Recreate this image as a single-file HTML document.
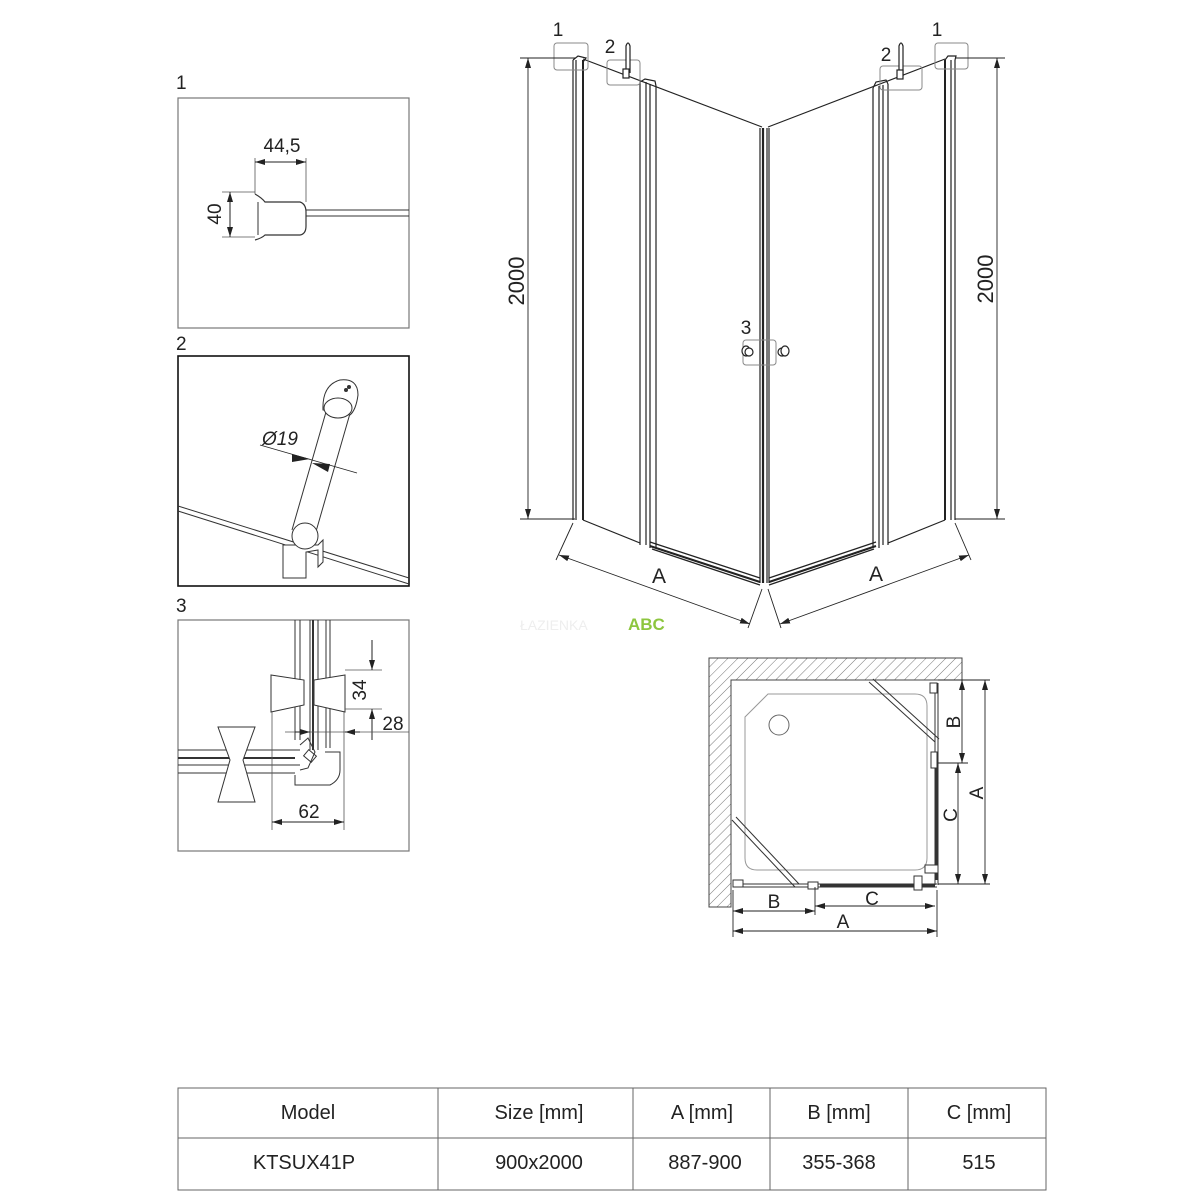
<!DOCTYPE html>
<html><head><meta charset="utf-8"><style>
html,body{margin:0;padding:0;background:#fff}
svg{display:block}
text{font-family:"Liberation Sans Narrow","Liberation Sans",sans-serif;fill:#222}
</style></head><body>
<svg width="1200" height="1200" viewBox="0 0 1200 1200" xmlns="http://www.w3.org/2000/svg">
<defs>
<marker id="ar" viewBox="0 0 10 6" refX="10" refY="3" markerWidth="10" markerHeight="6" orient="auto-start-reverse" markerUnits="userSpaceOnUse"><path d="M0,0 L10,3 L0,6 z" fill="#222"/></marker>
<pattern id="hatch" width="7" height="7" patternUnits="userSpaceOnUse" patternTransform="rotate(45)"><line x1="0" y1="0" x2="0" y2="7" stroke="#777" stroke-width="1"/></pattern>
</defs>

<!-- ===== Panel 1 ===== -->
<text x="176" y="89" font-size="19">1</text>
<rect x="178" y="98" width="231" height="230" fill="none" stroke="#777" stroke-width="1.2"/>
<path d="M255,194 Q262,198 265,202 L300,202 Q306,204 306,212 L306,226 Q306,234 300,235 L265,235 Q262,238 255,240" fill="none" stroke="#333" stroke-width="1.2"/>
<line x1="258" y1="202" x2="258" y2="235" stroke="#333"/>
<line x1="306" y1="210" x2="409" y2="210" stroke="#333"/>
<line x1="306" y1="216" x2="409" y2="216" stroke="#333"/>
<line x1="255" y1="158" x2="255" y2="194" stroke="#555" stroke-width="0.8"/>
<line x1="306" y1="158" x2="306" y2="202" stroke="#555" stroke-width="0.8"/>
<line x1="255" y1="162" x2="306" y2="162" stroke="#222" marker-start="url(#ar)" marker-end="url(#ar)"/>
<text x="282" y="152" font-size="19" text-anchor="middle">44,5</text>
<line x1="222" y1="192" x2="255" y2="192" stroke="#555" stroke-width="0.8"/>
<line x1="222" y1="237" x2="255" y2="237" stroke="#555" stroke-width="0.8"/>
<line x1="230" y1="192" x2="230" y2="237" stroke="#222" marker-start="url(#ar)" marker-end="url(#ar)"/>
<text transform="translate(221,214) rotate(-90)" font-size="19" text-anchor="middle">40</text>

<!-- ===== Panel 2 ===== -->
<text x="176" y="350" font-size="19">2</text>
<rect x="178" y="356" width="231" height="230" fill="none" stroke="#111" stroke-width="1.6"/>
<line x1="178" y1="506" x2="409" y2="578" stroke="#333"/>
<line x1="178" y1="511" x2="409" y2="584" stroke="#333"/>
<line x1="292" y1="530" x2="328" y2="405" stroke="#333"/>
<line x1="315" y1="535" x2="351" y2="410" stroke="#333"/>
<path d="M323,410 Q322,385 340,380 Q358,378 358,395 Q356,410 350,415 Z" fill="#fff" stroke="#333"/>
<ellipse cx="338" cy="408" rx="14" ry="10" fill="#fff" stroke="#333"/>
<circle cx="346" cy="390" r="2" fill="#333"/><circle cx="349" cy="387" r="2" fill="#333"/>
<path d="M283,545 L318,545 L323,540 L323,562 L318,567 L318,550 L306,552 L306,578 L283,578 Z" fill="#fff" stroke="#333"/>
<circle cx="305" cy="536" r="13" fill="#fff" stroke="#333"/>
<line x1="260" y1="445" x2="357" y2="473" stroke="#222" stroke-width="0.8"/>
<path d="M292,454 L310,459 L292,462 z M330,464 L312,463 L328,472 z" fill="#222"/>
<text x="262" y="445" font-size="19" font-style="italic">Ø19</text>

<!-- ===== Panel 3 ===== -->
<text x="176" y="612" font-size="19">3</text>
<rect x="178" y="620" width="231" height="231" fill="none" stroke="#777" stroke-width="1.2"/>
<g stroke="#333" fill="none" stroke-width="1">
<line x1="295" y1="620" x2="295" y2="740"/><line x1="300" y1="620" x2="300" y2="740"/>
<line x1="310" y1="620" x2="310" y2="750"/><line x1="313" y1="620" x2="313" y2="750" stroke-width="2"/>
<line x1="318" y1="620" x2="318" y2="750"/><line x1="326" y1="620" x2="326" y2="748"/><line x1="330" y1="620" x2="330" y2="748"/>
<line x1="178" y1="750" x2="300" y2="750"/><line x1="178" y1="758" x2="295" y2="758" stroke-width="2"/>
<line x1="178" y1="765" x2="300" y2="765"/><line x1="178" y1="773" x2="295" y2="773"/>
<path d="M295,775 L295,785 L330,785 Q340,780 340,770 L340,752 L325,752"/>
<path d="M300,745 L308,738 L315,752 L308,768 L300,770"/>
<rect x="305" y="752" width="10" height="8" transform="rotate(40 310 756)"/>
</g>
<path d="M271,675 L304,680 L304,705 L271,712 Z M345,675 L314,680 L314,705 L345,712 Z" fill="#fff" stroke="#333"/>
<path d="M218,727 L255,727 L243,760 L255,802 L218,802 L230,760 Z" fill="#fff" stroke="#333"/>
<line x1="345" y1="670" x2="382" y2="670" stroke="#555" stroke-width="0.8"/>
<line x1="345" y1="709" x2="382" y2="709" stroke="#555" stroke-width="0.8"/>
<line x1="372" y1="640" x2="372" y2="670" stroke="#222" marker-end="url(#ar)"/>
<line x1="372" y1="740" x2="372" y2="709" stroke="#222" marker-end="url(#ar)"/>
<text transform="translate(366,690) rotate(-90)" font-size="19" text-anchor="middle">34</text>
<text x="393" y="730" font-size="19" text-anchor="middle">28</text>
<line x1="285" y1="732" x2="409" y2="732" stroke="#555" stroke-width="0.8"/>
<line x1="295" y1="732" x2="310" y2="732" stroke="#222" marker-end="url(#ar)"/>
<line x1="360" y1="732" x2="345" y2="732" stroke="#222" marker-end="url(#ar)"/>
<line x1="272" y1="712" x2="272" y2="830" stroke="#555" stroke-width="0.8"/>
<line x1="344" y1="712" x2="344" y2="830" stroke="#555" stroke-width="0.8"/>
<line x1="272" y1="822" x2="344" y2="822" stroke="#222" marker-start="url(#ar)" marker-end="url(#ar)"/>
<text x="309" y="818" font-size="19" text-anchor="middle">62</text>

<!-- ===== Main 3D view ===== -->
<g stroke="#222" fill="none" stroke-width="1.2">
<!-- left wall post -->
<line x1="573" y1="60" x2="573" y2="520"/><line x1="576" y1="60" x2="576" y2="520"/><line x1="583" y1="60" x2="583" y2="520" stroke-width="2"/>
<path d="M573,60 L578,56 L586,58 L583,62"/>
<!-- top edges -->
<line x1="583" y1="59" x2="762" y2="127"/>
<line x1="768" y1="127" x2="945" y2="59"/>
<!-- left hinge post -->
<line x1="640" y1="80" x2="640" y2="545"/><line x1="646" y1="82" x2="646" y2="545"/><line x1="650" y1="84" x2="650" y2="548"/><line x1="656" y1="86" x2="656" y2="548"/>
<path d="M640,82 L645,79 L655,81 L656,86"/>
<!-- centre post -->
<line x1="760" y1="128" x2="760" y2="583"/><line x1="763" y1="128" x2="763" y2="583" stroke-width="2.2"/><line x1="767" y1="128" x2="767" y2="583"/><line x1="769" y1="128" x2="769" y2="583"/>
<!-- right hinge post -->
<line x1="873" y1="88" x2="873" y2="548"/><line x1="879" y1="86" x2="879" y2="548"/><line x1="883" y1="85" x2="883" y2="545"/><line x1="888" y1="84" x2="888" y2="545"/>
<path d="M873,88 L876,82 L886,80 L888,84"/>
<!-- right wall post -->
<line x1="945" y1="60" x2="945" y2="520" stroke-width="2"/><line x1="951" y1="60" x2="951" y2="520"/><line x1="955" y1="60" x2="955" y2="520"/>
<path d="M945,60 L948,56 L956,56 L955,60"/>
<!-- bottoms -->
<line x1="583" y1="520" x2="640" y2="543"/>
<line x1="888" y1="543" x2="945" y2="520"/>
<line x1="650" y1="542" x2="760" y2="578"/><line x1="650" y1="546" x2="760" y2="582" stroke-width="2"/><line x1="652" y1="549" x2="760" y2="585"/>
<line x1="769" y1="578" x2="876" y2="542"/><line x1="769" y1="582" x2="876" y2="546" stroke-width="2"/><line x1="769" y1="585" x2="874" y2="549"/>
</g>
<!-- callout boxes -->
<g stroke="#888" fill="none" stroke-width="1">
<rect x="554" y="43" width="34" height="27" rx="3"/>
<rect x="607" y="60" width="33" height="25" rx="3"/>
<rect x="743" y="340" width="33" height="25" rx="3"/>
<rect x="880" y="66" width="42" height="24" rx="3"/>
<rect x="935" y="43" width="33" height="26" rx="3"/>
</g>
<g stroke="#222" fill="#fff" stroke-width="1.2">
<path d="M626,73 L626,46 Q628,40 630,46 L630,73"/><rect x="623" y="69" width="6" height="9"/>
<path d="M899,76 L899,46 Q901,40 903,46 L903,76"/><rect x="897" y="70" width="6" height="9"/>
<ellipse cx="746" cy="351" rx="4" ry="5"/><ellipse cx="749" cy="352" rx="4" ry="4"/>
<ellipse cx="782" cy="352" rx="4" ry="4"/><ellipse cx="785" cy="351" rx="4" ry="5"/>
</g>
<text x="558" y="36" font-size="19" text-anchor="middle">1</text>
<text x="610" y="53" font-size="19" text-anchor="middle">2</text>
<text x="746" y="334" font-size="19" text-anchor="middle">3</text>
<text x="886" y="61" font-size="19" text-anchor="middle">2</text>
<text x="937" y="36" font-size="19" text-anchor="middle">1</text>
<!-- 2000 dims -->
<g stroke="#222" stroke-width="0.9">
<line x1="520" y1="58" x2="575" y2="58"/><line x1="520" y1="519" x2="575" y2="519"/>
<line x1="528" y1="58" x2="528" y2="519" marker-start="url(#ar)" marker-end="url(#ar)"/>
<line x1="955" y1="58" x2="1005" y2="58"/><line x1="955" y1="519" x2="1005" y2="519"/>
<line x1="997" y1="58" x2="997" y2="519" marker-start="url(#ar)" marker-end="url(#ar)"/>
<!-- A dims -->
<line x1="573" y1="523" x2="556" y2="560"/><line x1="762" y1="589" x2="748" y2="628"/>
<line x1="559" y1="555" x2="750" y2="624" marker-start="url(#ar)" marker-end="url(#ar)"/>
<line x1="955" y1="523" x2="971" y2="560"/><line x1="768" y1="589" x2="781" y2="628"/>
<line x1="780" y1="624" x2="969" y2="555" marker-start="url(#ar)" marker-end="url(#ar)"/>
</g>
<text transform="translate(524,281) rotate(-90)" font-size="22" text-anchor="middle">2000</text>
<text transform="translate(993,279) rotate(-90)" font-size="22" text-anchor="middle">2000</text>
<text x="659" y="583" font-size="21" text-anchor="middle">A</text>
<text x="876" y="581" font-size="21" text-anchor="middle">A</text>
<text x="628" y="630" font-size="17" font-weight="bold" style="fill:#8dc63f">ABC</text>
<text x="520" y="630" font-size="14" style="fill:#eee">ŁAZIENKA</text>

<!-- ===== Plan view ===== -->
<path d="M709,658 L962,658 L962,680 L731,680 L731,907 L709,907 Z" fill="url(#hatch)" stroke="#444" stroke-width="1"/>
<path d="M768,694 L915,694 Q927,694 927,706 L927,858 Q927,870 915,870 L757,870 Q745,870 745,858 L745,717 Z" fill="none" stroke="#999" stroke-width="1"/>
<circle cx="779" cy="725" r="10" fill="none" stroke="#666"/>
<g stroke="#333" fill="none">
<line x1="935" y1="683" x2="935" y2="885"/><line x1="938" y1="683" x2="938" y2="885"/>
<line x1="937" y1="765" x2="937" y2="880" stroke-width="3"/>
<line x1="733" y1="884" x2="937" y2="884"/><line x1="733" y1="887" x2="937" y2="887"/>
<line x1="820" y1="885" x2="935" y2="885" stroke-width="3"/>
<line x1="869" y1="682" x2="935" y2="742"/><line x1="873" y1="679" x2="939" y2="739"/>
<line x1="732" y1="820" x2="795" y2="887"/><line x1="736" y1="817" x2="799" y2="884"/>
<rect x="930" y="683" width="7" height="10" fill="#fff"/>
<path d="M931,752 L937,752 L937,768 L931,768 Z" fill="#fff"/>
<path d="M808,882 L818,882 L818,889 L808,889 Z" fill="#fff"/>
<rect x="733" y="880" width="10" height="7" fill="#fff"/>
<rect x="925" y="865" width="13" height="8" fill="#fff"/>
<rect x="914" y="876" width="8" height="14" fill="#fff"/>
</g>
<g stroke="#222" stroke-width="0.9">
<line x1="938" y1="680" x2="990" y2="680"/><line x1="938" y1="763" x2="968" y2="763"/><line x1="938" y1="884" x2="990" y2="884"/>
<line x1="962" y1="680" x2="962" y2="763" marker-start="url(#ar)" marker-end="url(#ar)"/>
<line x1="958" y1="763" x2="958" y2="884" marker-start="url(#ar)" marker-end="url(#ar)"/>
<line x1="985" y1="680" x2="985" y2="884" marker-start="url(#ar)" marker-end="url(#ar)"/>
<line x1="733" y1="890" x2="733" y2="937"/><line x1="815" y1="887" x2="815" y2="915"/><line x1="937" y1="890" x2="937" y2="937"/>
<line x1="733" y1="911" x2="815" y2="911" marker-start="url(#ar)" marker-end="url(#ar)"/>
<line x1="815" y1="906" x2="935" y2="906" marker-start="url(#ar)" marker-end="url(#ar)"/>
<line x1="733" y1="931" x2="937" y2="931" marker-start="url(#ar)" marker-end="url(#ar)"/>
</g>
<text transform="translate(960,722) rotate(-90)" font-size="19" text-anchor="middle">B</text>
<text transform="translate(957,815) rotate(-90)" font-size="19" text-anchor="middle">C</text>
<text transform="translate(983,793) rotate(-90)" font-size="19" text-anchor="middle">A</text>
<text x="774" y="908" font-size="19" text-anchor="middle">B</text>
<text x="872" y="905" font-size="19" text-anchor="middle">C</text>
<text x="843" y="928" font-size="19" text-anchor="middle">A</text>

<!-- ===== Table ===== -->
<g stroke="#666" stroke-width="1" fill="none">
<rect x="178" y="1088" width="868" height="102"/>
<line x1="178" y1="1138" x2="1046" y2="1138"/>
<line x1="438" y1="1088" x2="438" y2="1190"/>
<line x1="633" y1="1088" x2="633" y2="1190"/>
<line x1="770" y1="1088" x2="770" y2="1190"/>
<line x1="908" y1="1088" x2="908" y2="1190"/>
</g>
<g font-size="20" text-anchor="middle">
<text x="308" y="1119">Model</text><text x="539" y="1119">Size [mm]</text><text x="702" y="1119">A [mm]</text><text x="839" y="1119">B [mm]</text><text x="979" y="1119">C [mm]</text>
<text x="304" y="1169">KTSUX41P</text><text x="539" y="1169">900x2000</text><text x="705" y="1169">887-900</text><text x="839" y="1169">355-368</text><text x="979" y="1169">515</text>
</g>
</svg>
</body></html>
